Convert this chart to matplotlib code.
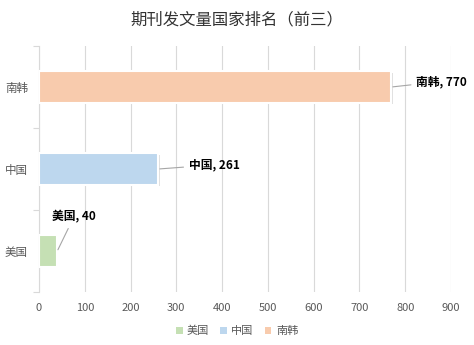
import matplotlib
matplotlib.use("Agg")
import matplotlib.pyplot as plt
import matplotlib.patheffects as pe
from matplotlib.patches import Patch

plt.rcParams['font.family'] = ['Noto Sans CJK SC', 'DejaVu Sans']

title = "期刊发文量国家排名（前三）"
categories = ["美国", "中国", "南韩"]
values = [40, 261, 770]
colors = ["#c5e0b4", "#bdd7ee", "#f8cbad"]
xticks = [0, 100, 200, 300, 400, 500, 600, 700, 800, 900]

fig = plt.figure(figsize=(4.74, 3.45), dpi=100)
ax = fig.add_axes([39/474, 1-292/345, (451-39)/474, (292-46)/345])

ypos = list(range(len(categories)))
bars = ax.barh(ypos, values, height=0.38, color=colors, edgecolor="white",
               linewidth=1.5, zorder=3)
for b in bars:
    b.set_path_effects([pe.SimplePatchShadow(offset=(0.8, -0.8), shadow_rgbFace="#000000", alpha=0.12),
                        pe.Normal()])

ax.set_xlim(0, 900)
ax.set_ylim(-0.5, 2.5)
ax.set_xticks(xticks)
ax.set_xticklabels([str(t) for t in xticks], fontsize=8, color="#595959")
ax.tick_params(axis="x", length=0, pad=8)
ax.grid(axis="x", color="#d9d9d9", linewidth=0.8, zorder=0)
ax.set_axisbelow(True)

ax.set_yticks([-0.5, 0.5, 1.5, 2.5])
ax.set_yticklabels([])
ax.set_yticks(ypos, minor=True)
ax.set_yticklabels(categories, minor=True, fontsize=8.3, color="#595959")
ax.tick_params(axis="y", which="major", length=4, color="#d9d9d9", width=0.8)
ax.tick_params(axis="y", which="minor", length=0, pad=8)

for s in ["top", "right", "bottom"]:
    ax.spines[s].set_visible(False)
ax.spines["left"].set_color("#d9d9d9")
ax.spines["left"].set_linewidth(0.8)

# data labels with leader lines
offsets = [(12, 20), (22, 3), (18, 4)]
has = ["center", "left", "left"]
vas = ["bottom", "center", "center"]
for i, (cat, v) in enumerate(zip(categories, values)):
    ax.annotate(f"{cat}, {v}", xy=(v, i), xytext=offsets[i], textcoords="offset points",
                ha=has[i], va=vas[i], fontsize=8.5, fontweight="bold", color="#000000",
                arrowprops=dict(arrowstyle="-", color="#a6a6a6", lw=0.8,
                                shrinkA=2, shrinkB=1), zorder=5)

fig.text(0.5, 1-20/345, title, ha="center", va="center", fontsize=11.8, color="#333333")

handles = [Patch(facecolor=c, edgecolor="none") for c in colors]
fig.legend(handles, categories, loc="center", bbox_to_anchor=(0.5, 1-331/345), ncol=3,
           frameon=False, fontsize=8, labelcolor="#595959", handlelength=0.6,
           handleheight=0.6, handletextpad=0.4, columnspacing=1.0)

fig.savefig("out.png", dpi=100)
